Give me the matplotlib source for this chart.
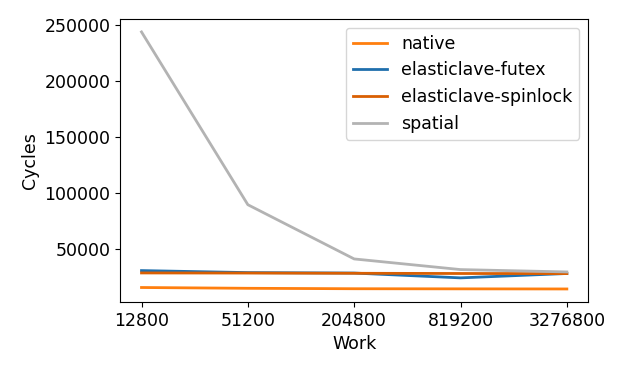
import matplotlib
matplotlib.use("Agg")
import matplotlib.pyplot as plt
from matplotlib.ticker import FixedLocator, NullLocator, FixedFormatter

work = [12800, 51200, 204800, 819200, 3276800]
native = [15300, 14600, 14200, 14100, 14000]
futex = [30400, 28600, 28200, 23900, 27800]
spinlock = [28300, 28200, 28000, 27800, 27700]
spatial = [243400, 89200, 40800, 31300, 29200]

fig = plt.figure(figsize=(6.23, 3.74), dpi=100)
ax = fig.add_axes([0.193, 0.193, 0.751, 0.756])
ax.plot(work, native, color="#ff7f0e", lw=2, label="native")
ax.plot(work, futex, color="#1f6fad", lw=2, label="elasticlave-futex")
ax.plot(work, spinlock, color="#d95f02", lw=2, label="elasticlave-spinlock")
ax.plot(work, spatial, color="#b3b3b3", lw=2, label="spatial")
ax.set_xscale("log")
ax.xaxis.set_major_locator(FixedLocator(work))
ax.xaxis.set_major_formatter(FixedFormatter([str(w) for w in work]))
ax.xaxis.set_minor_locator(NullLocator())
ax.set_xlabel("Work", fontsize=12.5)
ax.set_ylabel("Cycles", fontsize=12.5)
ax.tick_params(labelsize=12.5)
ax.legend(loc="upper right", fontsize=12.5)
fig.savefig("out.png", dpi=100)
